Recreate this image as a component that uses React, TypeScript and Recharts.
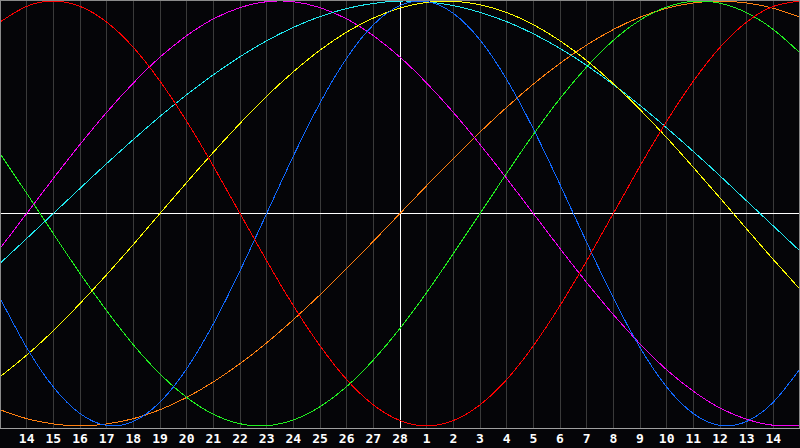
import React from 'react';
import { LineChart, Line, XAxis, YAxis, CartesianGrid, ReferenceLine } from 'recharts';

// day slots across the chart (0 = left edge, 30 = right edge)
const daySlots = [0,1,2,3,4,5,6,7,8,9,10,11,12,13,14,15,16,17,18,19,20,21,22,23,24,25,26,27,28,29,30];
const tickSlots = [1,2,3,4,5,6,7,8,9,10,11,12,13,14,15,16,17,18,19,20,21,22,23,24,25,26,27,28,29];
const tickLabels = ['14','15','16','17','18','19','20','21','22','23','24','25','26','27','28','1','2','3','4','5','6','7','8','9','10','11','12','13','14'];

// values in percent
const physical = [-39.8,-63.1,-81.7,-94.2,-99.8,-97.9,-88.8,-73.1,-52.0,-27.0,0,27.0,52.0,73.1,88.8,97.9,99.8,94.2,81.7,63.1,39.8,13.6,-13.6,-39.8,-63.1,-81.7,-94.2,-99.8,-97.9,-88.8,-73.1];
const emotional = [90.1,97.5,100,97.5,90.1,78.2,62.3,43.4,22.3,0,-22.3,-43.4,-62.3,-78.2,-90.1,-97.5,-100,-97.5,-90.1,-78.2,-62.3,-43.4,-22.3,0,22.3,43.4,62.3,78.2,90.1,97.5,100];
const intellectual = [28.2,9.5,-9.5,-28.2,-45.8,-61.8,-75.6,-86.6,-94.5,-99.0,-99.9,-97.2,-91.0,-81.5,-69.0,-54.1,-37.2,-18.9,0,18.9,37.2,54.1,69.0,81.5,91.0,97.2,99.9,99.0,94.5,86.6,75.6];
const intuitive = [-16.5,0,16.5,32.5,47.6,61.4,73.6,83.7,91.6,96.9,99.7,99.7,96.9,91.6,83.7,73.6,61.4,47.6,32.5,16.5,0,-16.5,-32.5,-47.6,-61.4,-73.6,-83.7,-91.6,-96.9,-99.7,-99.7];
const aesthetic = [-76.9,-66.7,-55.2,-42.4,-28.8,-14.6,0,14.6,28.8,42.4,55.2,66.7,76.9,85.4,92.0,96.7,99.4,99.9,98.3,94.6,88.9,81.3,72.0,61.1,48.9,35.7,21.7,7.3,-7.3,-21.7,-35.7];
const awareness = [-92.4,-96.6,-99.1,-100,-99.1,-96.6,-92.4,-86.6,-79.3,-70.7,-60.9,-50,-38.3,-25.9,-13.1,0,13.1,25.9,38.3,50,60.9,70.7,79.3,86.6,92.4,96.6,99.1,100,99.1,96.6,92.4];
const spiritual = [-23.5,-11.8,0,11.8,23.5,34.8,45.7,55.9,65.3,73.8,81.3,87.6,92.7,96.5,98.9,100,99.6,97.9,94.7,90.3,84.6,77.7,69.7,60.7,50.9,40.3,29.2,17.7,5.9,-5.9,-17.7];

const data = daySlots.map((d, i) => ({
  d,
  physical: physical[i],
  emotional: emotional[i],
  intellectual: intellectual[i],
  intuitive: intuitive[i],
  aesthetic: aesthetic[i],
  awareness: awareness[i],
  spiritual: spiritual[i],
}));

const series = [
  { key: 'awareness', color: '#ff8010' },
  { key: 'intellectual', color: '#20f020' },
  { key: 'intuitive', color: '#f000f0' },
  { key: 'spiritual', color: '#20e8f0' },
  { key: 'aesthetic', color: '#ffff00' },
  { key: 'physical', color: '#1068ff' },
  { key: 'emotional', color: '#ff0000' },
];

export default function App() {
  return (
    <div style={{ position: 'absolute', left: 0, top: 0, width: 800, height: 448, background: '#050508' }}>
      <LineChart width={800} height={448} data={data} margin={{ top: 0, right: 0, left: 0, bottom: 0 }}>
        <CartesianGrid vertical horizontal={false} stroke="#3a3a3a" shapeRendering="crispEdges" />
        <XAxis
          dataKey="d"
          type="number"
          domain={[0, 30]}
          ticks={tickSlots}
          interval={0}
          height={20}
          tickLine={false}
          axisLine={{ stroke: '#a0a0a0', shapeRendering: 'crispEdges' }}
          tickMargin={0}
          tickFormatter={(v: number) => tickLabels[tickSlots.indexOf(v)] ?? ''}
          tick={{ fill: '#ffffff', fontSize: 13, fontWeight: 'bold', fontFamily: 'DejaVu Sans Mono' }}
        />
        <YAxis hide domain={[-101, 100.5]} type="number" />
        <ReferenceLine y={0} stroke="#ffffff" strokeWidth={1} shapeRendering="crispEdges" />
        <ReferenceLine x={15} stroke="#ffffff" strokeWidth={1} shapeRendering="crispEdges" />
        {series.map((s) => (
          <Line
            key={s.key}
            dataKey={s.key}
            type="natural"
            stroke={s.color}
            strokeWidth={1}
            dot={false}
            activeDot={false}
            isAnimationActive={false}
            style={{ shapeRendering: 'crispEdges' }}
          />
        ))}
      </LineChart>
      <div style={{ position: 'absolute', left: 0, top: 0, width: 800, height: 428, boxSizing: 'border-box', borderTop: '1px solid #8a8a8a', borderLeft: '1px solid #8a8a8a', borderRight: '1px solid #8a8a8a', pointerEvents: 'none' }} />
    </div>
  );
}
